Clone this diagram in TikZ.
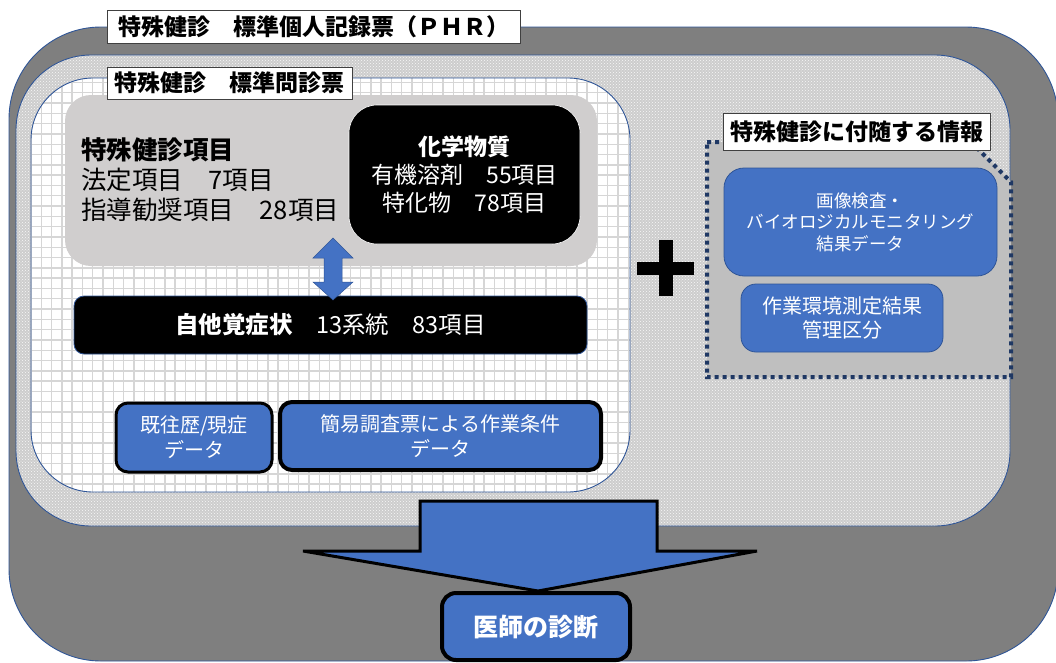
\documentclass[tikz,border=0pt]{standalone}
\usepackage{fontspec}
\setmainfont{Noto Sans CJK JP}
\usetikzlibrary{patterns}
\definecolor{outergray}{HTML}{7F7F7F}
\definecolor{dotgray}{HTML}{CDCDCD}
\definecolor{gridline}{HTML}{D6D6D6}
\definecolor{itemgray}{HTML}{D0CECE}
\definecolor{framegray}{HTML}{BFBFBF}
\definecolor{navy}{HTML}{1F3864}
\definecolor{mblue}{HTML}{4472C4}
\definecolor{edgeblue}{HTML}{2F5597}
\definecolor{labeledge}{HTML}{404040}
\tikzset{
  layerline/.style={draw=edgeblue, line width=0.9pt},
  labelbox/.style={draw=labeledge, line width=0.8pt, fill=white, inner sep=0pt, font=\bfseries\fontsize{23}{26}\selectfont},
  bluebox/.style={fill=mblue, draw=edgeblue, line width=0.8pt, text=white, align=center, inner sep=0pt},
  blackedge/.style={draw=black, line width=3pt},
}
\begin{document}
\begin{tikzpicture}[x=1pt,y=-1pt]
\useasboundingbox (0,0) rectangle (1056,662);
% outer layer
\path[fill=outergray, layerline, rounded corners=92pt] (9,27) rectangle (1058,661);
% dotted layer
\path[fill=dotgray, rounded corners=75pt] (16,55) rectangle (1010,526);
\path[pattern=crosshatch dots, pattern color=white!85!dotgray, rounded corners=75pt] (16,55) rectangle (1010,526);
\path[layerline, rounded corners=75pt] (16,55) rectangle (1010,526);
% grid layer
\begin{scope}
  \clip[rounded corners=62pt] (31,78) rectangle (630,492);
  \fill[white] (31,78) rectangle (630,492);
  \draw[gridline, line width=1.4pt, step=10.3pt] (27,74) grid (634,496);
\end{scope}
\path[layerline, rounded corners=62pt] (31,78) rectangle (630,492);

% items box
\node[fill=itemgray, rounded corners=26pt, minimum width=532pt, minimum height=171pt, inner sep=0pt] (items) at (331,180.5) {};
\node[anchor=west, align=left, font=\fontsize{25.5}{30}\selectfont, inner sep=0pt] (itemtext) at (81,180)
  {{\bfseries 特殊健診項目}\\法定項目　7項目\\指導勧奨項目　28項目};
% chemicals box
\node[fill=black, draw=white, line width=0.6pt, rounded corners=28pt, minimum width=231pt, minimum height=139pt, inner sep=0pt,
      text=white, align=center, font=\fontsize{23}{28}\selectfont] (chem) at (464.5,174.5)
  {{\bfseries 化学物質}\\有機溶剤　55項目\\特化物　78項目};

% symptoms box
\node[fill=black, draw=edgeblue, line width=0.8pt, rounded corners=10pt, minimum width=513pt, minimum height=58pt, inner sep=0pt,
      text=white, font=\fontsize{23.5}{26}\selectfont] (symp) at (330.5,325)
  {{\bfseries 自他覚症状}　13系統　83項目};

% double arrow between items and symptoms
\coordinate (da) at (333,269);
\fill[mblue, draw=edgeblue, line width=0.5pt, shift={(da)}]
  (0,-31) -- (20,-11) -- (9,-11) -- (9,13) -- (20,13) -- (0,31) -- (-20,13) -- (-9,13) -- (-9,-11) -- (-20,-11) -- cycle;

% history boxes
\node[bluebox, blackedge, rounded corners=12pt, minimum width=156pt, minimum height=69pt, font=\fontsize{20}{25}\selectfont] (hist) at (194,437.5)
  {既往歴/現症\\データ};
\node[bluebox, draw=black, line width=4pt, rounded corners=12pt, minimum width=321pt, minimum height=68pt, font=\fontsize{20}{25}\selectfont] (work) at (440.5,436)
  {簡易調査票による作業条件\\データ};

% labels
\node[labelbox, minimum width=413pt, minimum height=33pt] (phr) at (313.5,26.5) {特殊健診　標準個人記録票（ＰＨＲ）};
\node[labelbox, minimum width=245pt, minimum height=32pt] (q) at (229.5,83) {特殊健診　標準問診票};

% plus sign
\fill[black] (637,262) rectangle (694,275);
\fill[black] (659,240) rectangle (673,296);

% accompanying information frame
\draw[fill=framegray, draw=navy, line width=4pt, dash pattern=on 4pt off 4pt]
  (707,142) -- (971,142) -- (1011,182) -- (1011,377) -- (707,377) -- cycle;
\node[labelbox, minimum width=267pt, minimum height=37pt] (info) at (856.5,131.5) {特殊健診に付随する情報};
\node[bluebox, rounded corners=20pt, minimum width=273pt, minimum height=108pt, font=\fontsize{17.5}{21.5}\selectfont] (img) at (860.5,222)
  {画像検査・\\バイオロジカルモニタリング\\結果データ};
\node[bluebox, rounded corners=15pt, minimum width=202pt, minimum height=68pt, font=\fontsize{20}{24}\selectfont] (env) at (842,318)
  {作業環境測定結果\\管理区分};

% diagnosis
\node[bluebox, draw=black, line width=4pt, rounded corners=14pt, minimum width=188pt, minimum height=67pt, font=\bfseries\fontsize{25}{30}\selectfont] (diag) at (536,626.5)
  {医師の診断};
% big arrow from questionnaire to diagnosis
\coordinate (ba) at (538,501);
\draw[fill=mblue, draw=black, line width=3pt, line join=miter, shift={(ba)}]
  (-118,0) -- (119,0) -- (119,50) -- (219,50) -- (0,90) -- (-235,50) -- (-118,50) -- cycle;
\end{tikzpicture}
\end{document}
